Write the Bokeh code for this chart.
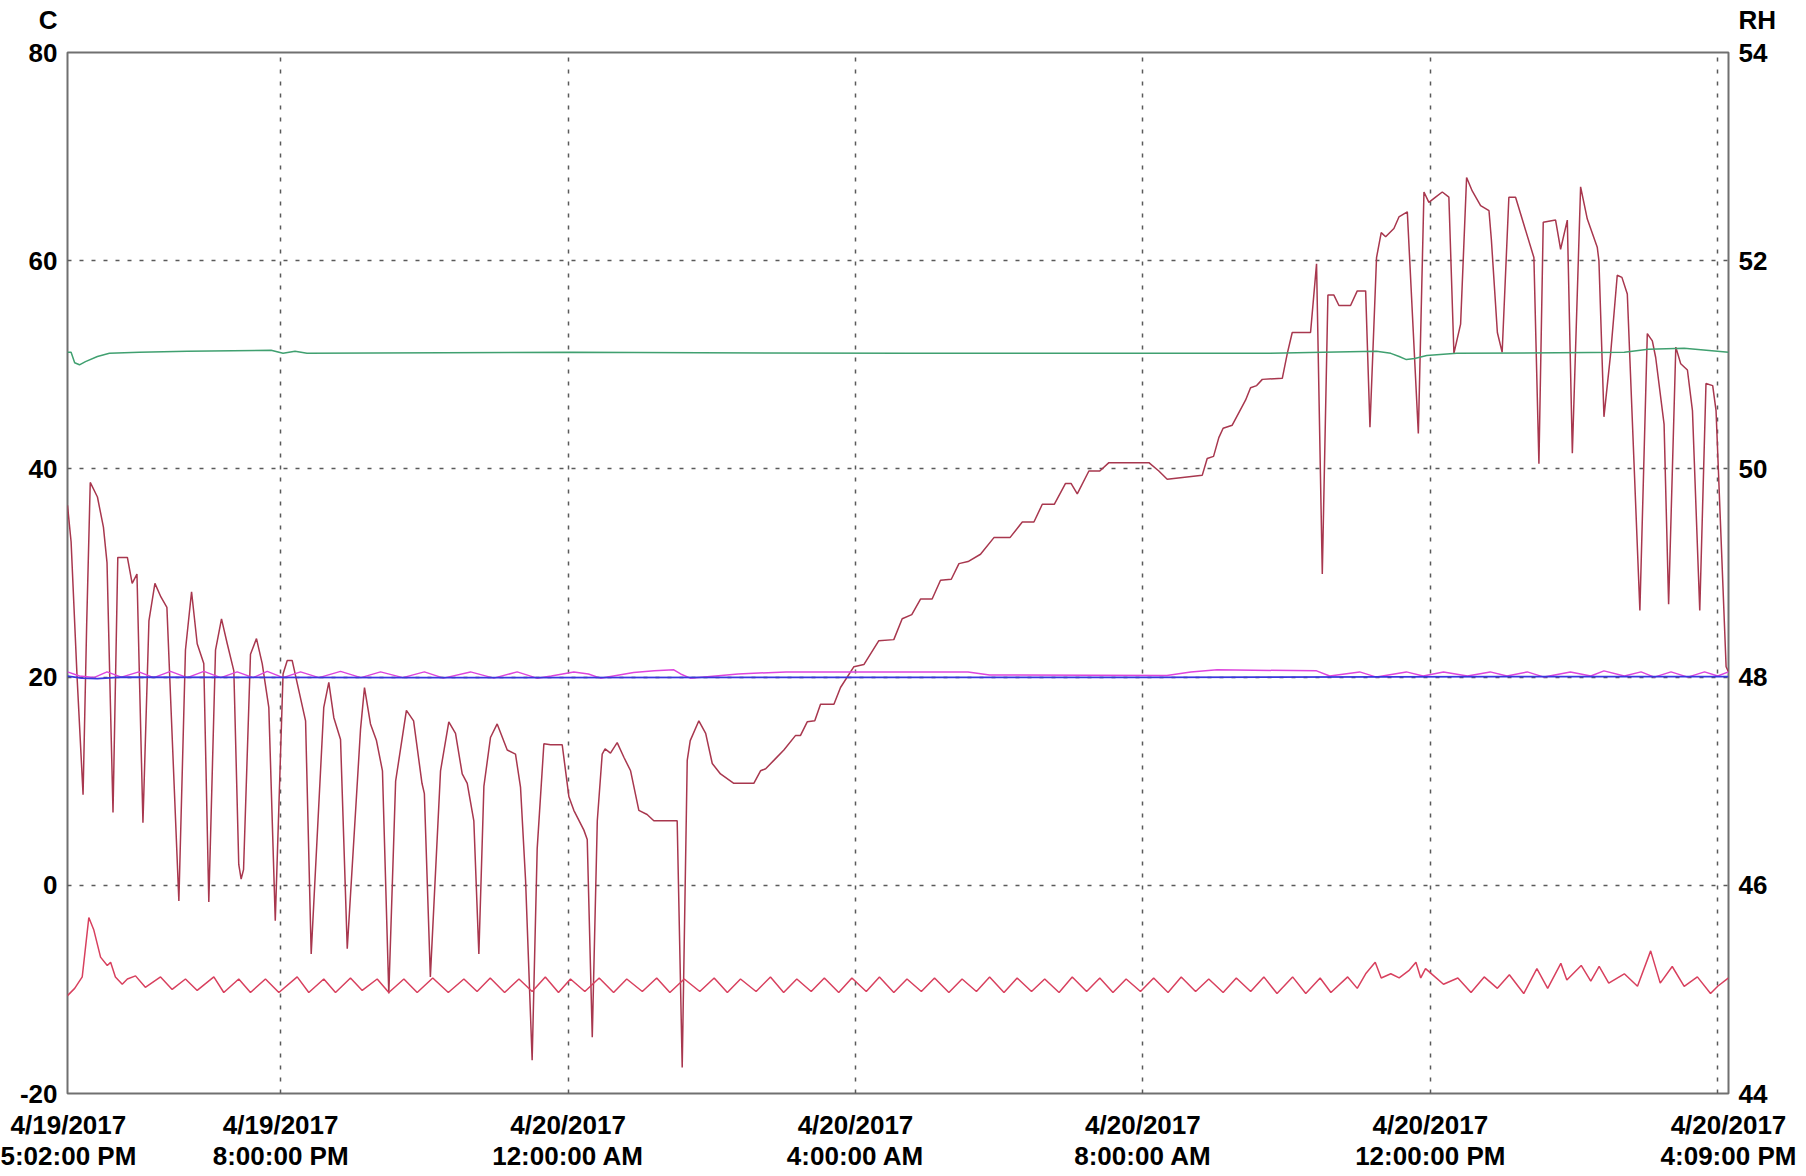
from bokeh.plotting import figure
from bokeh.models import Range1d, LinearAxis, FixedTicker
from bokeh.embed import file_html
from bokeh.resources import INLINE

# ---- time axis (minutes after 4/19/2017 5:02:00 PM) ----
tick_minutes = [0, 178, 418, 658, 898, 1138, 1387]
tick_labels = ["4/19/2017\n5:02:00 PM", "4/19/2017\n8:00:00 PM", "4/20/2017\n12:00:00 AM",
               "4/20/2017\n4:00:00 AM", "4/20/2017\n8:00:00 AM", "4/20/2017\n12:00:00 PM",
               "4/20/2017\n4:09:00 PM"]
grid_minutes = [178, 418, 658, 898, 1138, 1378]
c_ticks = [-20, 0, 20, 40, 60, 80]
rh_ticks = [44, 46, 48, 50, 52, 54]
c_unit = "C"
rh_unit = "RH"

# ---- main temperature trace (C) ----
main_t = [0, 3, 8, 13, 16, 19, 25, 30, 33, 38, 42, 50, 54, 58, 63, 68, 73, 78, 83, 93,
          98.5, 103.6, 108.3, 113.8, 118, 123.6, 128.6, 133.4, 138.9, 143, 145, 147,
          152.8, 157.8, 162.6, 168.1, 173.5, 180, 183.5, 187.6, 198.8, 203.5, 214, 218.2,
          222.4, 228, 233.6, 244.7, 248, 253, 258, 263, 268.3, 274, 283, 289, 296, 298,
          303, 311.5, 318.4, 324, 329.6, 333.8, 339.3, 343.5, 347.7, 353.2, 358.8, 367.2,
          374.1, 378.3, 382.5, 388, 392.2, 397.8, 403.4, 413.1, 418.7, 422.8, 431.2, 434,
          438.2, 442.4, 446.5, 448.9, 453.4, 459, 464.6, 470.2, 477.1, 484, 489.6, 509.1,
          513.3, 517.5, 520, 527.2, 532.9, 538.4, 545.3, 556.4, 573.1, 578.7, 583, 589.8,
          598.2, 608, 612.1, 617.7, 624, 628.8, 640, 645.5, 656.7, 665, 677.5, 690, 697,
          705, 712.3, 722, 729, 738, 744.4, 752, 762.4, 773.6, 787, 797.3, 807, 814, 824,
          833.4, 838, 843.2, 852.9, 862, 869.6, 903, 911.3, 918.3, 947.6, 951.7, 957,
          961.4, 965, 972.6, 983.7, 987.9, 993, 997.7, 1014.4, 1018.6, 1022.7, 1038, 1043,
          1047.8, 1052.5, 1057.5, 1061.7, 1071.4, 1077, 1084, 1087.6, 1093.1, 1097, 1100.7,
          1107.6, 1111.8, 1118.8, 1128, 1132.7, 1136.8, 1142.4, 1148, 1153.5, 1157.7,
          1163.3, 1168.3, 1173, 1180, 1187, 1189, 1194, 1198, 1203.6, 1209.2, 1224.5,
          1228.7, 1232.3, 1242.6, 1246.8, 1252.4, 1256.6, 1263.5, 1269.1, 1277.4, 1278.8,
          1283, 1288.6, 1294.1, 1298, 1302.5, 1313, 1319.2, 1323.4, 1326.2, 1333.2, 1337,
          1343, 1347.1, 1352.7, 1356.9, 1363, 1368.2, 1373.8, 1376.6, 1385, 1387]
main_c = [36.5, 33.0, 20.0, 8.7, 25.0, 38.7, 37.3, 34.4, 31.0, 7.0, 31.5, 31.5, 29.0, 29.9,
          6.0, 25.4, 29.0, 27.7, 26.7, -1.5, 22.6, 28.2, 23.2, 21.3, -1.6, 22.6, 25.6, 23.2,
          20.6, 2.0, 0.6, 1.5, 22.2, 23.7, 21.3, 17.1, -3.4, 20.3, 21.6, 21.6, 15.8, -6.6,
          17.1, 19.5, 16.1, 14.0, -6.1, 15.0, 19.0, 15.5, 13.9, 11.0, -10.4, 10.0, 16.8,
          15.8, 9.8, 8.8, -8.8, 11.0, 15.7, 14.6, 10.7, 9.8, 6.2, -6.6, 9.5, 14.2, 15.5,
          13.0, 12.6, 9.4, 0.5, -16.8, 3.5, 13.6, 13.5, 13.5, 8.5, 7.2, 5.3, 4.4, -14.6,
          6.2, 12.6, 13.1, 12.7, 13.7, 12.3, 11.0, 7.2, 6.8, 6.2, 6.2, -17.5, 12.0, 13.9,
          15.8, 14.6, 11.7, 10.7, 9.8, 9.8, 11.0, 11.2, 12.0, 13.0, 14.4, 14.4, 15.7, 15.8,
          17.4, 17.4, 19.0, 21.0, 21.2, 23.5, 23.6, 25.6, 26.0, 27.5, 27.5, 29.3, 29.4,
          30.9, 31.1, 31.8, 33.4, 33.4, 34.9, 34.9, 36.6, 36.6, 38.6, 38.6, 37.6, 39.8,
          39.8, 40.6, 40.6, 39.8, 39.0, 39.4, 41.0, 41.2, 43.0, 43.9, 44.2, 46.6, 47.8,
          48.0, 48.6, 48.7, 51.1, 53.1, 53.1, 59.7, 29.9, 56.7, 56.7, 55.7, 55.7, 57.1,
          57.1, 44.0, 60.3, 62.7, 62.3, 63.1, 64.2, 64.7, 43.4, 66.6, 65.6, 66.1, 66.6,
          66.1, 51.1, 53.9, 68.0, 66.7, 65.3, 64.8, 62.0, 53.1, 51.2, 66.1, 66.1, 60.3,
          40.5, 63.7, 63.9, 61.1, 63.9, 41.5, 67.1, 64.0, 61.3, 60.0, 45.0, 51.1, 58.6,
          58.4, 56.8, 26.4, 53.0, 52.3, 50.7, 44.3, 27.0, 51.7, 50.1, 49.5, 45.6, 26.4,
          48.2, 48.0, 45.6, 21.0, 20.5]

# ---- lower temperature trace (C) ----
low_t = [0, 6, 12.3, 17.8, 22, 27.6, 33.2, 36, 40, 45.7, 50, 56.8, 65, 77.7, 87.4, 98.5,
         108.3, 122.2, 130.5, 143, 152.8, 165.3, 176.5, 191.8, 201.5, 214, 223.8, 236.3,
         246.1, 258.6, 268.3, 280.9, 292, 305, 318, 331, 342, 353, 365, 377, 388, 399,
         410, 420, 432, 444, 456, 467, 480, 492, 503, 515, 528, 540, 551, 562, 575, 587,
         598, 609, 621, 632, 644, 655, 667, 678, 690, 701, 713, 724, 736, 747, 759, 770,
         782, 793, 805, 816, 828, 839, 851, 862, 873, 884, 896, 907, 919, 930, 942, 953,
         965, 976, 988, 999, 1010, 1023, 1034, 1046, 1055, 1069, 1077, 1084, 1092, 1097,
         1105, 1112, 1120, 1126, 1130, 1134, 1140, 1149, 1161, 1172, 1183, 1194, 1204,
         1216, 1227, 1236, 1247, 1252, 1264, 1272, 1279, 1287, 1300, 1311, 1322, 1330,
         1340, 1350, 1361, 1372, 1378, 1387]
low_c = [-10.6, -9.9, -8.8, -3.1, -4.3, -6.9, -7.7, -7.4, -8.8, -9.5, -9.0, -8.7, -9.8, -8.8,
         -10.0, -9.0, -10.1, -8.8, -10.3, -9.0, -10.3, -9.0, -10.3, -8.8, -10.3, -9.0,
         -10.3, -8.9, -10.1, -9.0, -10.3, -9.0, -10.3, -8.9, -10.3, -9.0, -10.2, -8.9,
         -10.3, -9.0, -10.2, -8.8, -10.3, -9.0, -10.2, -8.9, -10.3, -9.0, -10.2, -8.9,
         -10.3, -9.0, -10.2, -8.9, -10.3, -9.0, -10.2, -8.8, -10.3, -9.0, -10.2, -8.9,
         -10.3, -8.9, -10.2, -8.8, -10.3, -9.0, -10.2, -8.9, -10.3, -9.0, -10.2, -8.8,
         -10.3, -8.9, -10.2, -9.0, -10.3, -8.8, -10.2, -8.9, -10.3, -9.0, -10.2, -8.9,
         -10.3, -8.8, -10.2, -9.0, -10.3, -8.9, -10.2, -8.8, -10.4, -8.8, -10.4, -8.9,
         -10.3, -8.8, -9.9, -8.5, -7.4, -8.9, -8.5, -8.9, -8.2, -7.4, -8.9, -8.0, -8.6,
         -9.5, -8.9, -10.3, -8.8, -9.9, -8.6, -10.4, -8.0, -9.9, -7.5, -9.1, -7.7, -9.2,
         -7.8, -9.4, -8.5, -9.7, -6.3, -9.4, -7.8, -9.7, -8.8, -10.4, -9.7, -8.9]

# ---- magenta trace (C) ----
mag_t = [0, 10, 22, 33, 45, 59.6, 72, 86, 100, 113.9, 128, 141.7, 155, 166.8, 180, 194.6,
         210, 228, 245, 261.4, 280, 298, 314, 336.5, 356, 375.5, 392, 404, 422.8, 435, 445,
         472.7, 490, 506.3, 512, 520, 560, 600, 700, 752, 770, 918, 938, 960, 1043, 1054,
         1079, 1093, 1118, 1132, 1149, 1169, 1188, 1202, 1219, 1233, 1255, 1272, 1283,
         1300, 1314, 1325, 1339, 1353, 1367, 1378, 1387]
mag_c = [20.5, 20.1, 19.95, 20.5, 20.0, 20.5, 19.95, 20.55, 19.95, 20.55, 19.95, 20.5,
         19.95, 20.55, 19.95, 20.5, 19.95, 20.55, 19.95, 20.5, 19.95, 20.5, 19.9, 20.5,
         19.9, 20.5, 19.9, 20.1, 20.5, 20.3, 19.9, 20.45, 20.6, 20.7, 20.3, 19.9, 20.3,
         20.5, 20.5, 20.5, 20.2, 20.15, 20.5, 20.7, 20.6, 20.1, 20.5, 20.0, 20.5, 20.1,
         20.5, 20.1, 20.5, 20.1, 20.5, 20.0, 20.5, 20.1, 20.6, 20.1, 20.5, 20.0, 20.5,
         20.0, 20.5, 20.1, 20.5]

# ---- blue trace (C) ----
blue_t = [0, 12, 25, 45, 300, 600, 900, 1200, 1387]
blue_c = [20.1, 19.9, 19.85, 20.0, 19.95, 19.98, 19.97, 20.05, 20.05]

# ---- green trace (RH) ----
rh_t = [0, 3, 6, 10, 15, 25, 35, 60, 100, 170, 180, 190, 200, 420, 700, 1000, 1093, 1105,
        1112, 1118, 1125, 1135, 1160, 1300, 1320, 1350, 1387]
rh_v = [51.12, 51.12, 51.02, 51.0, 51.03, 51.08, 51.11, 51.12, 51.13, 51.14, 51.11, 51.13,
        51.11, 51.12, 51.11, 51.11, 51.13, 51.11, 51.08, 51.05, 51.06, 51.09, 51.11, 51.12,
        51.15, 51.16, 51.12]

FONT = "Liberation Sans"

p = figure(frame_width=1661, frame_height=1041,
           x_range=Range1d(0, 1387), y_range=Range1d(-20, 80),
           output_backend="svg", toolbar_location=None,
           min_border_left=67, min_border_right=70, min_border_top=52, min_border_bottom=75,
           background_fill_color="white", border_fill_color="white")
p.extra_y_ranges = {"rh": Range1d(44, 54)}

p.outline_line_color = "#707070"
p.outline_line_width = 2

# axes
p.xaxis.ticker = FixedTicker(ticks=tick_minutes)
p.xaxis.major_label_overrides = {t: l for t, l in zip(tick_minutes, tick_labels)}
p.yaxis.ticker = FixedTicker(ticks=c_ticks)
p.yaxis.major_label_overrides = {c_ticks[-1]: c_unit + "\n" + str(c_ticks[-1]) + "\n ",
                                 c_ticks[0]: str(c_ticks[0])}
rh_axis = LinearAxis(y_range_name="rh", ticker=FixedTicker(ticks=rh_ticks))
rh_axis.major_label_overrides = {rh_ticks[-1]: rh_unit + "\n" + str(rh_ticks[-1]) + "\n "}
p.add_layout(rh_axis, "right")

for ax in [p.xaxis[0], p.yaxis[0], rh_axis]:
    ax.axis_line_color = None
    ax.major_tick_line_color = None
    ax.minor_tick_line_color = None
    ax.major_tick_out = 0
    ax.major_tick_in = 0
    ax.major_label_text_font = FONT
    ax.major_label_text_font_style = "bold"
    ax.major_label_text_font_size = "26px"
    ax.major_label_text_color = "black"
    ax.major_label_standoff = 10
    ax.major_label_text_line_height = 1.08
p.xaxis.major_label_standoff = 16
p.xaxis.major_label_text_line_height = 1.05

# grid
p.xgrid.ticker = FixedTicker(ticks=grid_minutes)
p.ygrid.ticker = FixedTicker(ticks=[0, 20, 40, 60])
for g in [p.xgrid[0], p.ygrid[0]]:
    g.grid_line_color = "#5a5a5a"
    g.grid_line_dash = "4 8"
    g.grid_line_width = 1.5

# series
p.line(main_t, main_c, line_color="#A8374E", line_width=1.5)
p.line(low_t, low_c, line_color="#D8405E", line_width=1.5)
p.line(rh_t, rh_v, y_range_name="rh", line_color="#40A070", line_width=1.5)
p.line(mag_t, mag_c, line_color="#DD44DD", line_width=1.5)
p.line(blue_t, blue_c, line_color="#3838DD", line_width=1.8)

open("out.html", "w").write(file_html(p, INLINE))
